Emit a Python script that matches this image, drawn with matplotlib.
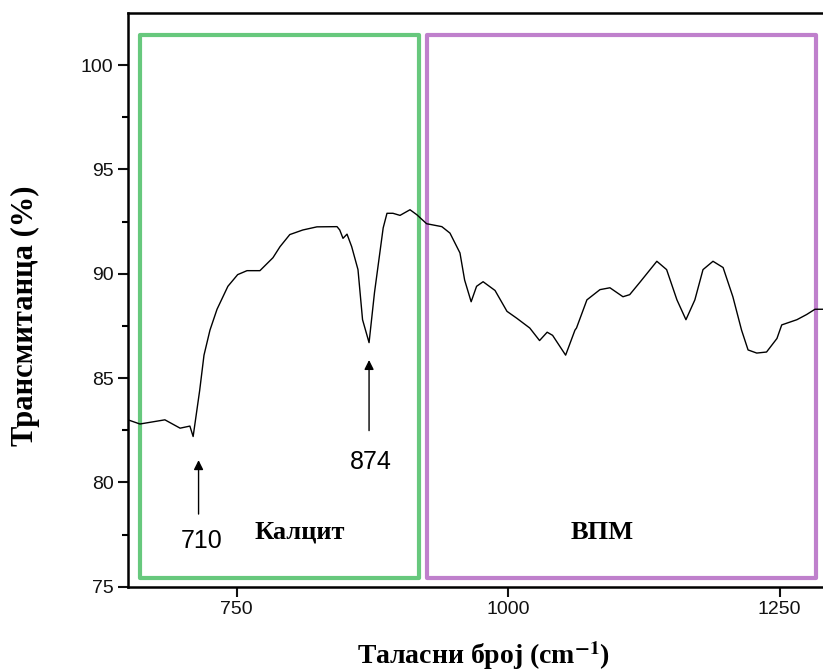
import numpy as np
import matplotlib.pyplot as plt
from matplotlib.patches import Rectangle

plt.rcParams['mathtext.fontset'] = 'stix'

# FTIR spectrum
wavenumber = [650, 661, 684, 698, 707, 710, 716, 720, 725.5, 732, 742, 751, 759.6, 771.5,
              783.5, 790, 799, 811, 824, 842.5, 845, 848, 851.7, 856, 861.8, 866, 872,
              877, 885, 888.5, 894, 900.5, 909.7, 916, 925, 939, 946.5, 955.7, 960, 966,
              971, 977, 988, 999, 1008, 1020, 1029, 1036, 1041, 1053, 1061.6, 1063,
              1072.6, 1084.6, 1093.8, 1105.8, 1112, 1121.5, 1137, 1146, 1155.5, 1163.8,
              1172, 1179.5, 1188.7, 1198, 1207, 1215, 1221, 1229, 1238, 1247.6, 1252,
              1266, 1275, 1282.6, 1290]
transmittance = [83.0, 82.8, 83.0, 82.6, 82.7, 82.2, 84.4, 86.1, 87.3, 88.3, 89.4, 89.96,
                 90.15, 90.15, 90.77, 91.3, 91.88, 92.1, 92.25, 92.26, 92.1, 91.7, 91.9,
                 91.3, 90.2, 87.8, 86.7, 89.1, 92.2, 92.9, 92.9, 92.8, 93.07, 92.83, 92.4,
                 92.26, 91.95, 91.0, 89.7, 88.66, 89.4, 89.62, 89.2, 88.2, 87.87, 87.4,
                 86.8, 87.2, 87.05, 86.1, 87.3, 87.4, 88.75, 89.24, 89.33, 88.9, 89.0,
                 89.6, 90.6, 90.2, 88.75, 87.8, 88.75, 90.2, 90.6, 90.3, 88.9, 87.3,
                 86.35, 86.2, 86.25, 86.9, 87.55, 87.8, 88.05, 88.3, 88.3]

regions = ['Калцит', 'ВПМ']
region_x = [(661, 918), (925, 1283.5)]
region_colors = ['#4cbf66', '#b46ac4']
region_label_x = [808, 1087]

peaks = [710, 872]
peak_labels = ['710', '874']

fig = plt.figure(figsize=(8.23, 6.71), dpi=100)
ax = fig.add_axes([0.1555, 0.1256, 0.8445, 0.855])

for (x0, x1), c in zip(region_x, region_colors):
    ax.add_patch(Rectangle((x0, 75.42), x1 - x0, 101.47 - 75.42, fill=False,
                           edgecolor=c, linewidth=3, alpha=0.85, joinstyle='round'))

ax.plot(wavenumber, transmittance, color='black', linewidth=1)

for name, xl in zip(regions, region_label_x):
    ax.text(xl, 77.6, name, ha='center', va='center', fontsize=19,
            fontweight='bold', family='Liberation Serif')

ax.annotate('', xy=(715, 81.2), xytext=(715, 78.35),
            arrowprops=dict(arrowstyle='-|>', color='black', lw=1, mutation_scale=14))
ax.annotate('', xy=(872, 86.0), xytext=(872, 82.35),
            arrowprops=dict(arrowstyle='-|>', color='black', lw=1, mutation_scale=14))
ax.text(718, 77.2, peak_labels[0], ha='center', va='center', fontsize=18,
        family='Liberation Sans')
ax.text(874, 81.0, peak_labels[1], ha='center', va='center', fontsize=18,
        family='Liberation Sans')

ax.set_xlim(650, 1290)
ax.set_ylim(75, 102.5)
ax.set_xticks([750, 1000, 1250])
ax.set_yticks([75, 80, 85, 90, 95, 100])
ax.set_yticks(np.arange(77.5, 102.5, 5), minor=True)
ax.tick_params(axis='both', which='major', direction='out', length=7, width=1.5,
               labelsize=14, colors='#111111')
ax.tick_params(axis='y', which='minor', direction='out', length=4, width=1.5)
for lab in ax.get_xticklabels() + ax.get_yticklabels():
    lab.set_family('Liberation Sans')
for s in ['left', 'bottom', 'top']:
    ax.spines[s].set_linewidth(1.8)
ax.spines['right'].set_visible(False)

ax.set_xlabel('Таласни број (cm$^{\\mathbf{-1}}$)', fontsize=20, fontweight='bold',
              family='Liberation Serif')
ax.set_ylabel('Трансмитанца (%)', fontsize=22, fontweight='bold',
              family='Liberation Serif')
ax.xaxis.set_label_coords(0.512, -0.092)
ax.yaxis.set_label_coords(-0.127, 0.472)

fig.savefig('out.png', dpi=100)
